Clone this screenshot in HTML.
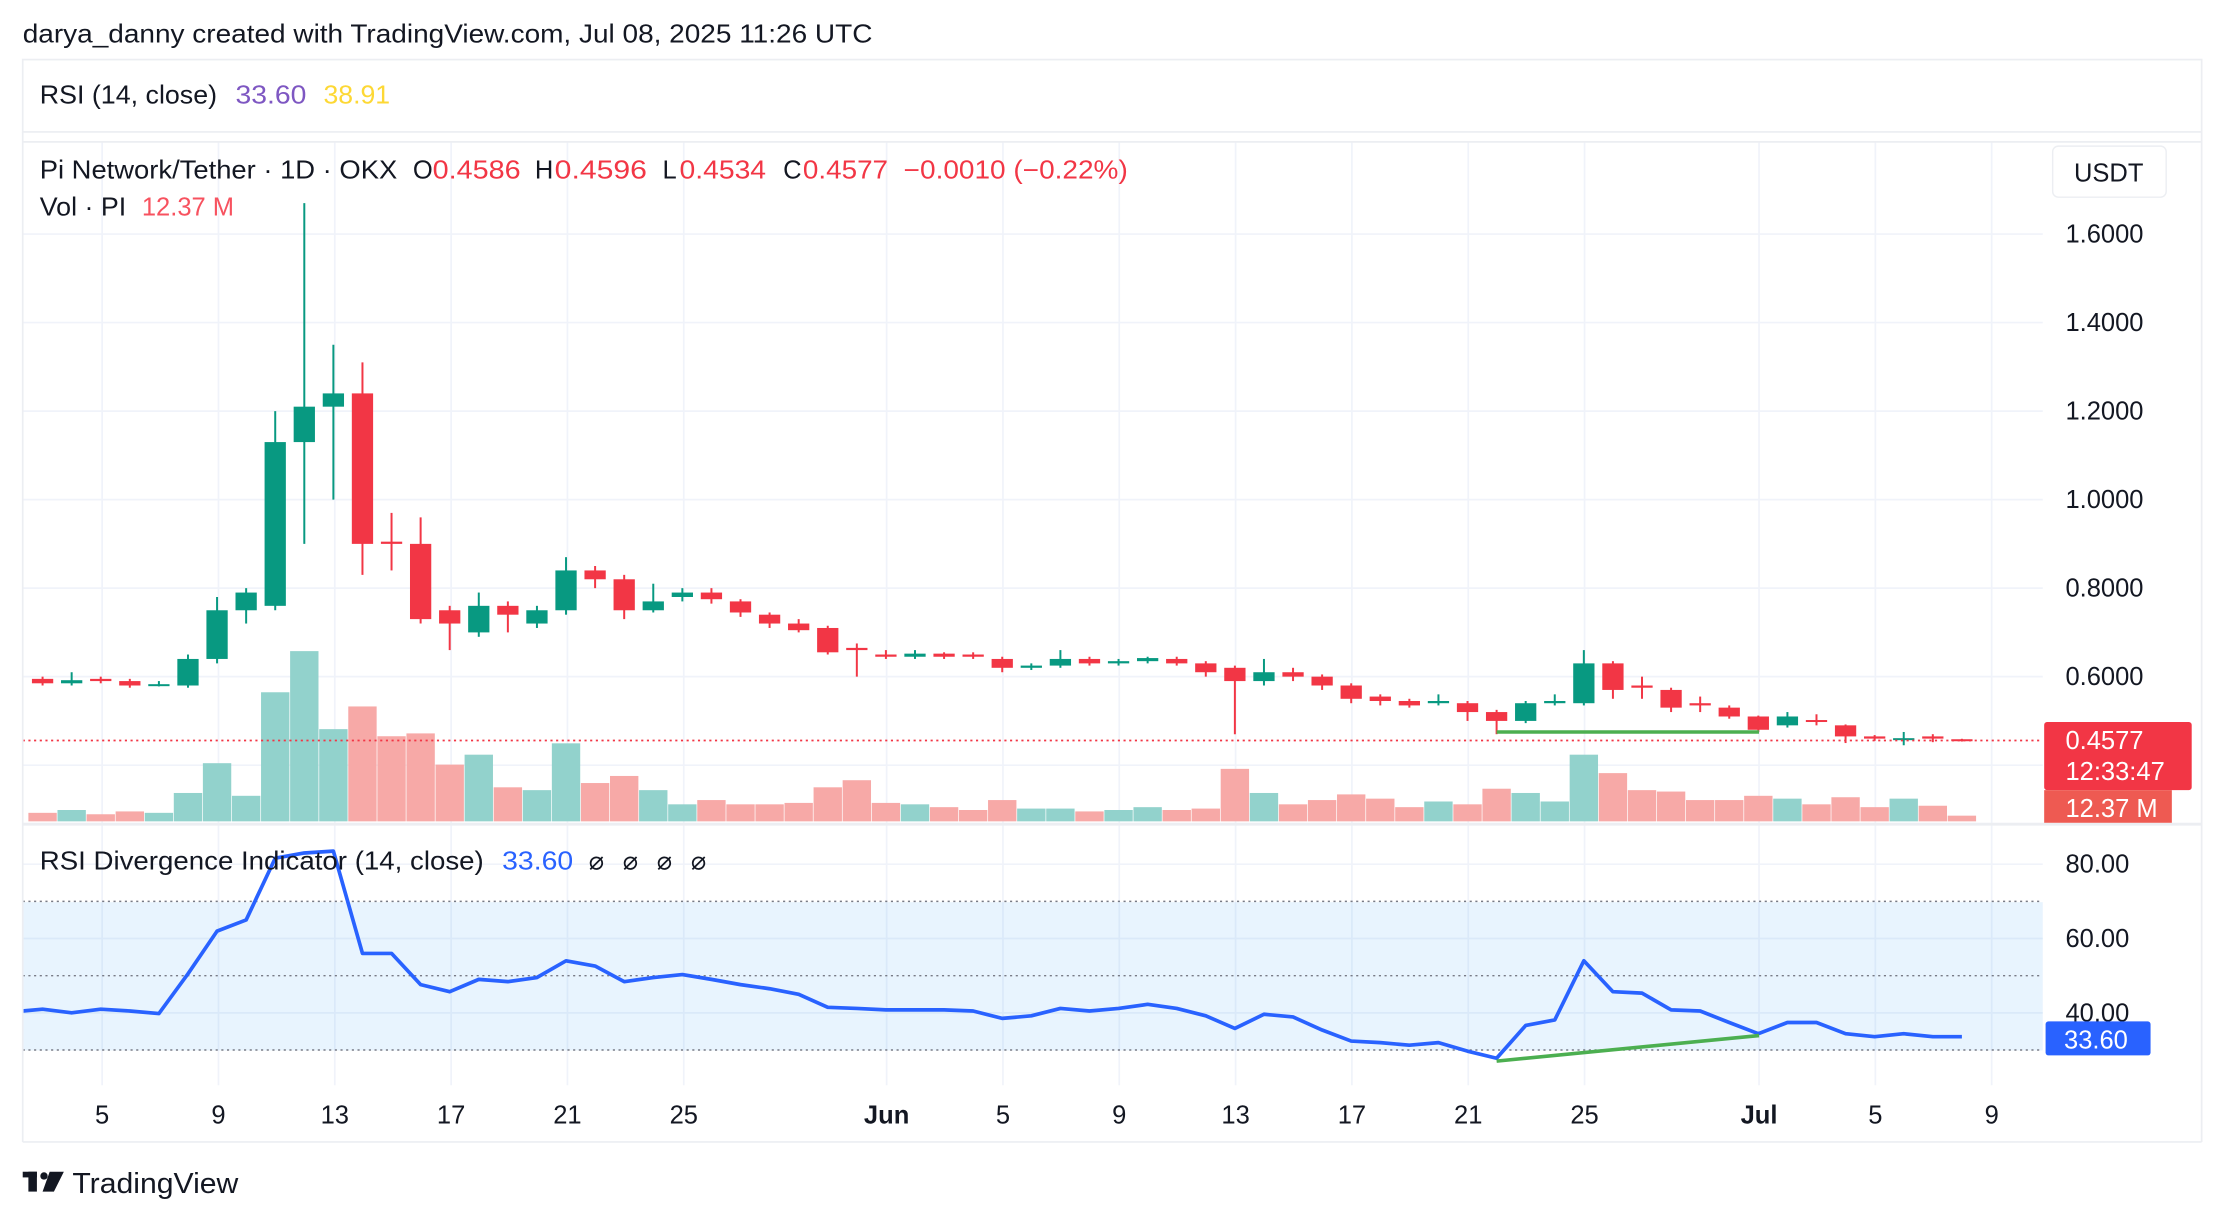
<!DOCTYPE html>
<html><head><meta charset="utf-8"><style>
html,body{margin:0;padding:0;background:#fff;width:2213px;height:1215px;overflow:hidden}
svg{display:block;font-family:"Liberation Sans",sans-serif}
</style></head><body>
<svg id="s" width="2213" height="1215" viewBox="0 0 1560 856.5" xmlns="http://www.w3.org/2000/svg">
<rect width="1560" height="857" fill="#fff"/>
<g id="grid"></g>
<rect x="16" y="636" width="1424" height="104.5" fill="#2196f3" fill-opacity="0.1"/>
<g id="dots"></g>
<g id="vol"></g>
<g id="cdl"></g>
<line x1="16" y1="522" x2="1440" y2="522" stroke="#f23645" stroke-width="1.2" stroke-dasharray="1.5 2.5"/>
<polyline id="rsi" fill="none" stroke="#2962ff" stroke-width="2.6" stroke-linejoin="round"/>
<line x1="1055" y1="516" x2="1240" y2="516" stroke="#4caf50" stroke-width="2.5"/>
<line x1="1055" y1="748" x2="1240" y2="730" stroke="#4caf50" stroke-width="2.5"/>
<g fill="none" stroke="#eceef2" stroke-width="1.2">
<rect x="16" y="42" width="1536" height="51"/>
<line x1="16" y1="100" x2="1552" y2="100"/>
<line x1="16" y1="581" x2="1552" y2="581" stroke-width="2"/>
<line x1="16" y1="805" x2="1552" y2="805"/>
<line x1="1552" y1="93" x2="1552" y2="805"/>
<line x1="16" y1="93" x2="16" y2="805"/>
</g>
<rect x="1447" y="103" width="80" height="36" rx="4" fill="#fff" stroke="#eceef2"/>
<text x="1462" y="128" font-size="18" fill="#131722">USDT</text>
<g font-size="18" fill="#131722" lengthAdjust="spacingAndGlyphs">
<text x="16" y="30" textLength="599" lengthAdjust="spacingAndGlyphs">darya_danny created with TradingView.com, Jul 08, 2025 11:26 UTC</text>
<text x="28" y="73" textLength="125" lengthAdjust="spacingAndGlyphs">RSI (14, close)</text>
<text x="166" y="73" textLength="50" lengthAdjust="spacingAndGlyphs" fill="#7e57c2">33.60</text>
<text x="228" y="73" textLength="47" lengthAdjust="spacingAndGlyphs" fill="#fdd835">38.91</text>
<text x="28" y="126" textLength="252" lengthAdjust="spacingAndGlyphs">Pi Network/Tether · 1D · OKX</text>
<text x="291" y="126">O</text><text x="305" y="126" textLength="62" lengthAdjust="spacingAndGlyphs" fill="#f23645">0.4586</text>
<text x="377" y="126">H</text><text x="391" y="126" textLength="65" lengthAdjust="spacingAndGlyphs" fill="#f23645">0.4596</text>
<text x="467" y="126">L</text><text x="479" y="126" textLength="61" lengthAdjust="spacingAndGlyphs" fill="#f23645">0.4534</text>
<text x="552" y="126">C</text><text x="566" y="126" textLength="60" lengthAdjust="spacingAndGlyphs" fill="#f23645">0.4577</text>
<text x="637" y="126" textLength="158" lengthAdjust="spacingAndGlyphs" fill="#f23645">−0.0010 (−0.22%)</text>
<text x="28" y="152" textLength="61" lengthAdjust="spacingAndGlyphs">Vol · PI</text>
<text x="100" y="152" textLength="65" lengthAdjust="spacingAndGlyphs" fill="#f7525f">12.37 M</text>
<text x="28" y="613" textLength="313" lengthAdjust="spacingAndGlyphs">RSI Divergence Indicator (14, close)</text>
<text x="354" y="613" textLength="50" lengthAdjust="spacingAndGlyphs" fill="#2962ff">33.60</text>
<text x="415" y="613">⌀</text><text x="439" y="613">⌀</text><text x="463" y="613">⌀</text><text x="487" y="613">⌀</text>
</g>
<g font-size="18" fill="#131722" id="axis"></g>
<rect x="1441" y="509" width="104" height="48" rx="2" fill="#f23645"/>
<text x="1456" y="528" font-size="18" fill="#fff">0.4577</text>
<text x="1456" y="550" font-size="18" fill="#fff">12:33:47</text>
<rect x="1441" y="557" width="90" height="23" fill="#ee5a52"/>
<text x="1456" y="576" font-size="18" fill="#fff">12.37 M</text>
<rect x="1442" y="720" width="74" height="24" rx="2" fill="#2962ff"/>
<text x="1455" y="739" font-size="18" fill="#fff">33.60</text>
<g fill="#131722"><rect x="16" y="826" width="10" height="4"/><rect x="20" y="826" width="6" height="14"/><circle cx="31" cy="829" r="2.6"/><polygon points="35,826 45,826 38,840 30,840"/></g>
<text x="51" y="841" font-size="20" fill="#131722" textLength="117" lengthAdjust="spacingAndGlyphs">TradingView</text>
</svg>
<script>
const NS="http://www.w3.org/2000/svg";
function el(p,t,a,txt){const e=document.createElementNS(NS,t);for(const k in a)e.setAttribute(k,a[k]);if(txt!=null)e.textContent=txt;document.getElementById(p).appendChild(e);return e;}
const py=p=>477-(p-0.6)*312, ry=r=>714-(r-40)*2.62;
[1.6,1.4,1.2,1.0,0.8,0.6,0.4].forEach(p=>el('grid','line',{x1:16,x2:1440,y1:py(p),y2:py(p),stroke:'#f0f3fa','stroke-width':1.2}));
[80,60,40].forEach(r=>el('grid','line',{x1:16,x2:1440,y1:ry(r),y2:ry(r),stroke:'#f0f3fa','stroke-width':1.2}));
const ticks=[[72,'5'],[154,'9'],[236,'13'],[318,'17'],[400,'21'],[482,'25'],[625,'Jun',1],[707,'5'],[789,'9'],[871,'13'],[953,'17'],[1035,'21'],[1117,'25'],[1240,'Jul',1],[1322,'5'],[1404,'9']];
ticks.forEach(t=>{el('grid','line',{x1:t[0],x2:t[0],y1:100,y2:765,stroke:'#f0f3fa','stroke-width':1.2});
 el('axis','text',{x:t[0],y:792,'text-anchor':'middle','font-weight':t[2]?'bold':'normal'},t[1]);});
[[1.6,'1.6000'],[1.4,'1.4000'],[1.2,'1.2000'],[1.0,'1.0000'],[0.8,'0.8000'],[0.6,'0.6000']].forEach(a=>el('axis','text',{x:1456,y:py(a[0])+6},a[1]));
[[80,'80.00'],[60,'60.00'],[40,'40.00']].forEach(a=>el('axis','text',{x:1456,y:ry(a[0])+6},a[1]));
[70,50,30].forEach(r=>el('dots','line',{x1:16,x2:1440,y1:ry(r),y2:ry(r),stroke:'#787b86','stroke-width':1,'stroke-dasharray':'1.5 2.5'}));
const C=[[.595,.585,.6,.58],[.585,.592,.61,.58],[.595,.59,.6,.585],[.59,.58,.595,.575],[.58,.583,.59,.578],[.58,.64,.65,.575],[.64,.75,.78,.63],[.75,.79,.80,.72],[.76,1.13,1.2,.75],[1.13,1.21,1.67,.90],[1.21,1.24,1.35,1.0],[1.24,.90,1.31,.83],[.905,.90,.97,.84],[.90,.73,.96,.72],[.75,.72,.76,.66],[.70,.76,.79,.69],[.76,.74,.77,.70],[.72,.75,.76,.71],[.75,.84,.87,.74],[.84,.82,.85,.80],[.82,.75,.83,.73],[.75,.77,.81,.745],[.78,.79,.80,.77],[.79,.775,.80,.765],[.77,.745,.775,.735],[.74,.72,.745,.71],[.72,.705,.73,.70],[.71,.655,.715,.65],[.665,.66,.675,.60],[.65,.645,.66,.64],[.645,.652,.66,.64],[.652,.645,.655,.64],[.65,.645,.655,.64],[.64,.62,.645,.61],[.62,.625,.63,.615],[.625,.64,.66,.62],[.64,.63,.645,.625],[.63,.635,.64,.625],[.635,.642,.645,.63],[.64,.63,.645,.625],[.63,.61,.635,.60],[.62,.59,.625,.47],[.59,.61,.64,.58],[.61,.60,.62,.59],[.60,.58,.605,.57],[.58,.55,.585,.54],[.555,.545,.56,.535],[.545,.535,.55,.53],[.54,.545,.56,.535],[.54,.52,.545,.50],[.52,.50,.525,.47],[.50,.54,.545,.495],[.54,.545,.56,.535],[.54,.63,.66,.535],[.63,.57,.635,.55],[.58,.575,.60,.55],[.57,.53,.575,.52],[.54,.535,.555,.52],[.53,.51,.535,.505],[.51,.48,.512,.475],[.49,.51,.52,.485],[.502,.498,.515,.49],[.49,.465,.492,.45],[.465,.46,.468,.455],[.459,.461,.475,.445],[.465,.46,.47,.452],[.4586,.4577,.4596,.4534]];
const V=[573,571,574,572,573,559,538,561,488,459,514,498,519,517,539,532,555,557,524,552,547,557,567,564,567,567,566,555,550,566,567,569,571,564,570,570,572,571,569,571,570,542,559,567,564,560,563,569,565,567,556,559,565,532,545,557,558,564,564,561,563,567,562,569,563,568,575];
const R=[41,40,41,40.5,39.8,50.5,62,65,81.6,83,83.5,56,56,47.6,45.7,49,48.4,49.5,54,52.6,48.4,49.5,50.3,49,47.6,46.5,45,41.5,41.2,40.8,40.8,40.8,40.5,38.5,39.2,41.2,40.5,41.2,42.3,41.2,39.2,35.8,39.6,38.9,35.4,32.4,32,31.3,32,29.7,27.8,36.6,38.1,54,45.7,45.3,40.8,40.5,37.4,34.4,37.4,37.4,34.4,33.6,34.4,33.6,33.6];
let pts=[];
C.forEach((c,i)=>{const x=30+i*20.5;const up=c[1]>=c[0];const col=up?'#089981':'#f23645';
 el('vol','rect',{x:x-10,y:V[i],width:20,height:579-V[i],fill:up?'#92d2cc':'#f7a9a7'});
 el('cdl','line',{x1:x,x2:x,y1:py(c[2]),y2:py(c[3]),stroke:col,'stroke-width':1.4});
 const t=py(Math.max(c[0],c[1])),b=py(Math.min(c[0],c[1]));
 el('cdl','rect',{x:x-7.5,y:t,width:15,height:Math.max(b-t,1.4),fill:col});
 pts.push(x+','+ry(R[i]).toFixed(1));});
pts.unshift('16,'+ry(40.5));
document.getElementById('rsi').setAttribute('points',pts.join(' '));
</script>
</body></html>
